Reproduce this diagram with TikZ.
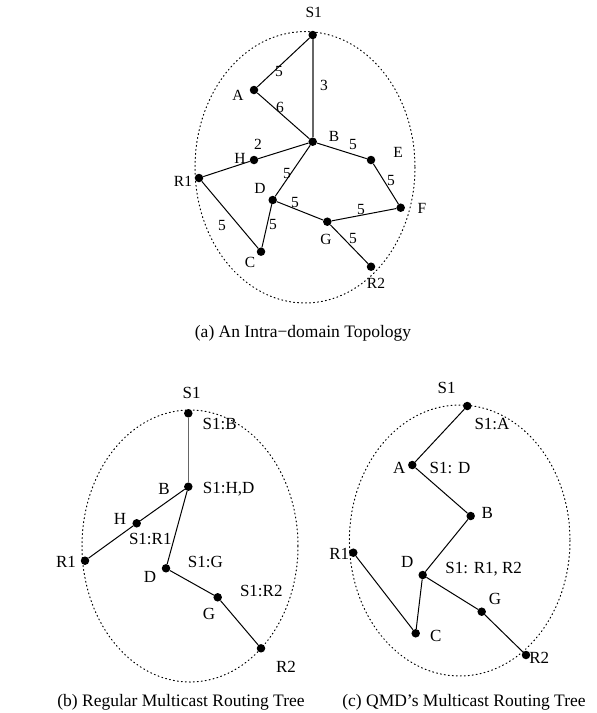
\documentclass[tikz,border=0pt]{standalone}
\usepackage{fontspec}
\setmainfont{Liberation Serif}
\begin{document}
\begin{tikzpicture}[x=1pt,y=-1pt,
  dot/.style={circle,fill=black,inner sep=0pt,minimum size=8.5pt},
  lbla/.style={inner sep=0pt,font=\fontsize{15.5}{17}\selectfont},
  lblb/.style={inner sep=0pt,font=\fontsize{17}{19}\selectfont},
  captext/.style={inner sep=0pt,font=\fontsize{17.5}{20}\selectfont},
  conn/.style={line width=1pt},
  gconn/.style={line width=1.6pt,draw=black!60},
  region/.style={line width=1pt,dash pattern=on 1pt off 3pt,line cap=round}]
\useasboundingbox (0,0) rectangle (597,713);

% ---------- (a) ----------
\draw[region] (305,167.3) ellipse [x radius=110, y radius=135.7];
\node[dot] (aS1) at (312.7,35) {};
\node[dot] (aA) at (254,90) {};
\node[dot] (aB) at (312.7,141.7) {};
\node[dot] (aH) at (254,160) {};
\node[dot] (aR1) at (199,178) {};
\node[dot] (aE) at (371,160) {};
\node[dot] (aD) at (272.7,200) {};
\node[dot] (aF) at (400.7,207.7) {};
\node[dot] (aG) at (327.3,221.7) {};
\node[dot] (aC) at (261,251.7) {};
\node[dot] (aR2) at (371,266.7) {};
\draw[conn] (aS1) -- (aA);
\draw[gconn] (aS1) -- (aB);
\draw[conn] (aA) -- (aB);
\draw[conn] (aB) -- (aH);
\draw[conn] (aH) -- (aR1);
\draw[conn] (aB) -- (aE);
\draw[conn] (aE) -- (aF);
\draw[conn] (aF) -- (aG);
\draw[conn] (aB) -- (aD);
\draw[conn] (aD) -- (aG);
\draw[conn] (aD) -- (aC);
\draw[conn] (aC) -- (aR1);
\draw[conn] (aG) -- (aR2);
\node[lbla] (laS1) at (313.7,12.7) {S1};
\node[lbla] (laA) at (238,95) {A};
\node[lbla] (laB) at (334,136) {B};
\node[lbla] (laH) at (240,158) {H};
\node[lbla] (laR1) at (183,181) {R1};
\node[lbla] (laE) at (398,152) {E};
\node[lbla] (laD) at (260,188) {D};
\node[lbla] (laF) at (422,208) {F};
\node[lbla] (laG) at (326,239) {G};
\node[lbla] (laC) at (250,262) {C};
\node[lbla] (laR2) at (376,283) {R2};
\node[lbla] (w1) at (279,71) {5};
\node[lbla] (w2) at (324,85) {3};
\node[lbla] (w3) at (280,107) {6};
\node[lbla] (w4) at (258,144) {2};
\node[lbla] (w5) at (353,144) {5};
\node[lbla] (w6) at (391,180) {5};
\node[lbla] (w7) at (287,173) {5};
\node[lbla] (w8) at (295,202) {5};
\node[lbla] (w9) at (361,209) {5};
\node[lbla] (w10) at (273,224) {5};
\node[lbla] (w11) at (222,225) {5};
\node[lbla] (w12) at (353,238) {5};
\node[captext] (capa) at (303,333) {(a) An Intra−domain Topology};

% ---------- (b) ----------
\draw[region] (190,546) ellipse [x radius=108, y radius=136];
\node[dot] (bS1) at (188.3,413.3) {};
\node[dot] (bB) at (188.3,486.7) {};
\node[dot] (bH) at (136.7,523.3) {};
\node[dot] (bR1) at (85,560.7) {};
\node[dot] (bD) at (166,568.3) {};
\node[dot] (bG) at (217.7,597.3) {};
\node[dot] (bR2) at (261,648.3) {};
\draw[gconn] (bS1) -- (bB);
\draw[conn] (bB) -- (bH);
\draw[conn] (bH) -- (bR1);
\draw[conn] (bB) -- (bD);
\draw[conn] (bD) -- (bG);
\draw[conn] (bG) -- (bR2);
\node[lblb] (lbS1) at (191.7,393.3) {S1};
\node[lblb] (tbS1) at (219.7,424) {S1:B};
\node[lblb] (lbB) at (164,489) {B};
\node[lblb] (tbB) at (228.7,489) {S1:H,D};
\node[lblb] (lbH) at (120,519) {H};
\node[lblb] (tbH) at (150.3,539) {S1:R1};
\node[lblb] (lbR1) at (66,562) {R1};
\node[lblb] (tbD) at (205.3,562) {S1:G};
\node[lblb] (lbD) at (150,577) {D};
\node[lblb] (tbG) at (261.3,590.7) {S1:R2};
\node[lblb] (lbG) at (209,614) {G};
\node[lblb] (lbR2) at (286,666.7) {R2};
\node[captext] (capb) at (181,702.7) {(b) Regular Multicast Routing Tree};

% ---------- (c) ----------
\draw[region] (459.7,540.5) ellipse [x radius=110.3, y radius=135.5];
\node[dot] (cS1) at (467.3,406) {};
\node[dot] (cA) at (412.3,465) {};
\node[dot] (cB) at (470.7,516) {};
\node[dot] (cR1) at (353.3,552.7) {};
\node[dot] (cD) at (422.7,575) {};
\node[dot] (cG) at (481.7,611.7) {};
\node[dot] (cC) at (415.7,633.3) {};
\node[dot] (cR2) at (526,655) {};
\draw[conn] (cS1) -- (cA);
\draw[conn] (cA) -- (cB);
\draw[conn] (cB) -- (cD);
\draw[conn] (cD) -- (cC);
\draw[conn] (cC) -- (cR1);
\draw[conn] (cD) -- (cG);
\draw[conn] (cG) -- (cR2);
\node[lblb] (lcS1) at (446.7,388.3) {S1};
\node[lblb] (tcS1) at (492,424) {S1:A};
\node[lblb] (lcA) at (399.3,468.3) {A};
\node[lblb] (tcA) at (450,468.3) {S1: D};
\node[lblb] (lcB) at (487.3,512.7) {B};
\node[lblb] (lcR1) at (339.3,554.3) {R1};
\node[lblb] (lcD) at (407.3,561.7) {D};
\node[lblb] (tcD) at (483.7,569.3) {S1: R1, R2};
\node[lblb] (lcG) at (495,599.3) {G};
\node[lblb] (lcC) at (435.7,636) {C};
\node[lblb] (lcR2) at (539.3,658.3) {R2};
\node[captext] (capc) at (464,702.7) {(c) QMD’s Multicast Routing Tree};
\end{tikzpicture}
\end{document}
